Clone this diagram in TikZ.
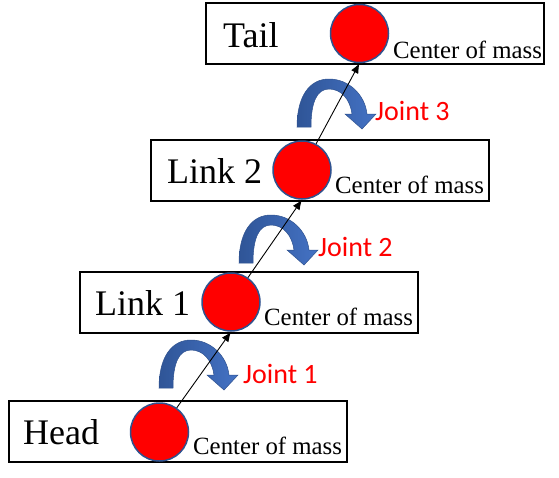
\documentclass[tikz,border=0pt]{standalone}
\usepackage{fontspec}
\setmainfont{Liberation Serif}
\newfontfamily\jointfont{Carlito}
\usetikzlibrary{arrows.meta}
\definecolor{jointred}{HTML}{FF0000}
\definecolor{darkblue}{HTML}{2F5597}
\definecolor{lightblue}{HTML}{4472C4}
\definecolor{rimblue}{HTML}{2F528F}
\tikzset{
 linkbox/.style={draw=black, line width=2pt, minimum width=338pt, minimum height=61pt, inner sep=0pt},
 mass/.style={circle, fill=red, draw=rimblue, line width=1.5pt, minimum size=58pt, inner sep=0pt},
 bigtext/.style={anchor=base west, inner sep=0pt, font=\fontsize{36}{40}\selectfont},
 smalltext/.style={anchor=base west, inner sep=0pt, font=\fontsize{24.8}{28}\selectfont},
 jointtext/.style={anchor=base west, inner sep=0pt, text=jointred, font=\jointfont\fontsize{28}{32}\selectfont},
 linkarrow/.style={-{Latex[length=10pt,width=8pt]}, line width=0.9pt, black},
 rotarrow/.style={left color=darkblue, right color=lightblue, draw=rimblue, line width=0.5pt},
 jointarrow/.pic={
   \path[rotarrow] (0,0) .. controls (0,-30) and (12,-48) .. (32,-48)
     .. controls (52,-48) and (68,-32) .. (70,-13) -- (79,-13) -- (65,2) -- (48,-13) -- (55,-13)
     .. controls (53,-28) and (44,-38) .. (32,-38)
     .. controls (20,-38) and (14,-25) .. (14,0) -- cycle;
 },
}
\begin{document}
\begin{tikzpicture}[x=1pt, y=-1pt]
\useasboundingbox (0,0) rectangle (559,477);
% boxes
\node[linkbox] (headbox) at (177.5,431.5) {};
\node[linkbox] (link1box) at (248.5,302.5) {};
\node[linkbox] (link2box) at (320,170) {};
\node[linkbox] (tailbox) at (375,33.5) {};
% labels
\node[bigtext] (headlbl) at (23,444) {Head};
\node[bigtext] (link1lbl) at (95,315) {Link 1};
\node[bigtext] (link2lbl) at (167,183) {Link 2};
\node[bigtext] (taillbl) at (223,47) {Tail};
\node[smalltext] (headcm) at (193,454) {Center of mass};
\node[smalltext] (link1cm) at (264,325) {Center of mass};
\node[smalltext] (link2cm) at (335,193) {Center of mass};
\node[smalltext] (tailcm) at (393,58) {Center of mass};
% joint rotation arrows
\pic (rot1) at (159,388) {jointarrow};
\pic (rot2) at (239,263) {jointarrow};
\pic (rot3) at (297,127) {jointarrow};
\node[jointtext] (joint1) at (243,383) {Joint 1};
\node[jointtext] (joint2) at (318,256) {Joint 2};
\node[jointtext] (joint3) at (375,120) {Joint 3};
% centres of mass
\node[mass] (headc) at (159.5,432) {};
\node[mass] (link1c) at (231,302) {};
\node[mass] (link2c) at (302,170) {};
\node[mass] (tailc) at (359.5,33.5) {};
% connectors
\draw[linkarrow] (headc) -- (link1c.south);
\draw[linkarrow] (link1c) -- (link2c.south);
\draw[linkarrow] (link2c) -- (tailc.south);
\end{tikzpicture}
\end{document}
